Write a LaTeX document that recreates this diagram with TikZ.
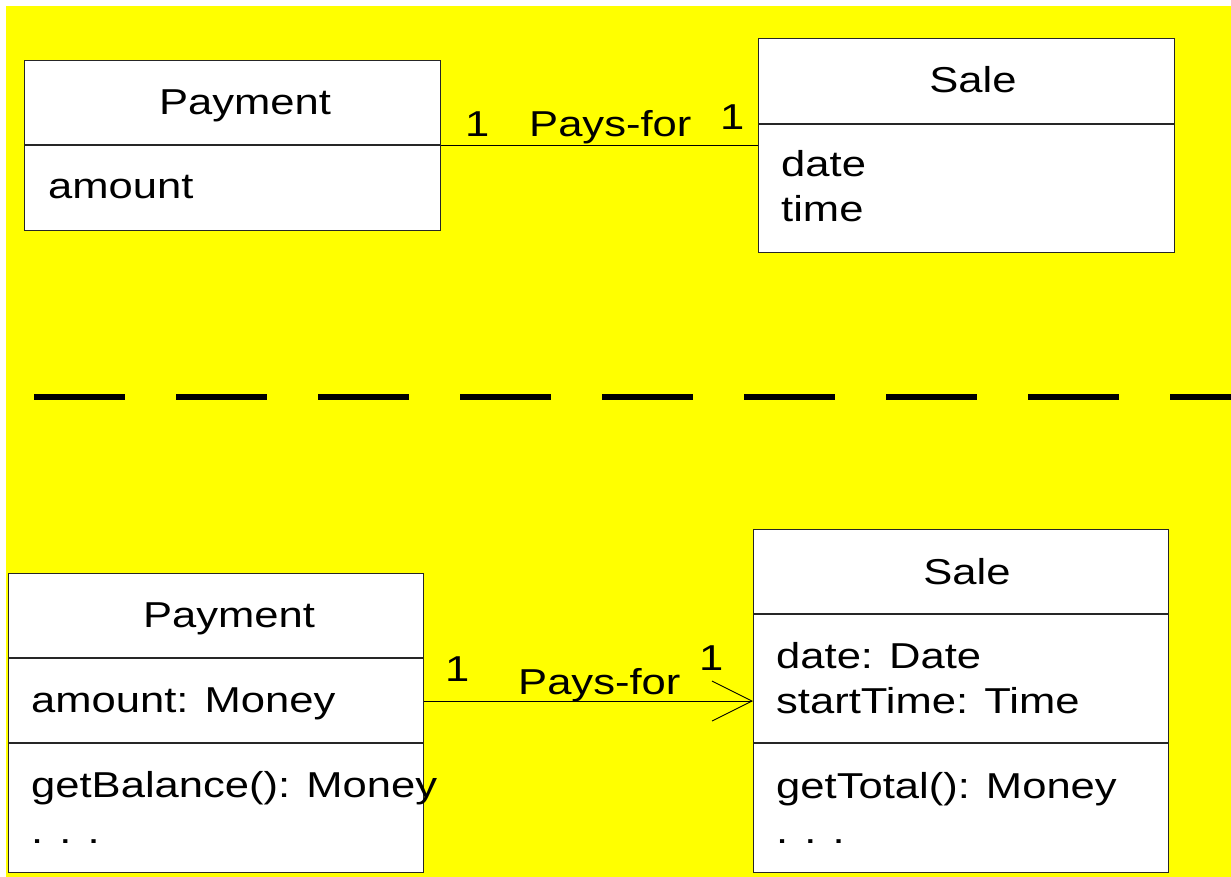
\documentclass[tikz,border=0pt]{standalone}
\usepackage{fontspec}
\setmainfont{Liberation Sans}[FakeStretch=1.21]
\usetikzlibrary{arrows.meta}
\definecolor{slideyellow}{RGB}{255,255,0}
\begin{document}
\begin{tikzpicture}[x=1pt,y=-1pt,
  classbox/.style={draw=black!85, line width=1.3pt, fill=white, rectangle, inner sep=0pt, anchor=north west},
  lbl/.style={inner sep=0pt, font=\fontsize{36}{45}\selectfont},
  assoc/.style={draw=black, line width=0.9pt},
  divider/.style={draw=black!85, line width=1.3pt}]
\useasboundingbox (0,0) rectangle (1231,877);
\fill[slideyellow] (6,6) rectangle (1231,877);

% --- conceptual model ---
\node[classbox, minimum width=416pt, minimum height=170pt] (pay1) at (24,60) {};
\draw[divider] ([yshift=-85pt]pay1.north west) -- ([yshift=-85pt]pay1.north east);
\node[lbl, anchor=base] (pay1name) at (245,115) {Payment};
\node[lbl, anchor=base west] (pay1attr) at (48,199) {amount};

\node[classbox, minimum width=416pt, minimum height=214pt] (sale1) at (758,38) {};
\draw[divider] ([yshift=-86pt]sale1.north west) -- ([yshift=-86pt]sale1.north east);
\node[lbl, anchor=base] (sale1name) at (973,93) {Sale};
\node[lbl, anchor=base west] (sale1attr) at (781,177) {date};
\node[lbl, anchor=base west] (sale1attrb) at (781,222) {time};

\draw[assoc] (pay1.east) -- (sale1.west);
\node[lbl, anchor=base west] (m1a) at (465,137) {1};
\node[lbl, anchor=base west] (r1) at (529,137) {Pays-for};
\node[lbl, anchor=base west] (m1b) at (720,130) {1};

% --- separator ---
\draw[line width=6pt, dash pattern=on 91pt off 51pt] (34,397) coordinate (sepL) -- (1231,397) coordinate (sepR);

% --- design model ---
\node[classbox, minimum width=415pt, minimum height=299pt] (pay2) at (8,573) {};
\draw[divider] ([yshift=-85pt]pay2.north west) -- ([yshift=-85pt]pay2.north east);
\draw[divider] ([yshift=-170pt]pay2.north west) -- ([yshift=-170pt]pay2.north east);
\node[lbl, anchor=base] (pay2name) at (229,627) {Payment};
\node[lbl, anchor=base west] (pay2attr) at (31,712) {amount: Money};
\node[lbl, anchor=base west] (pay2op) at (31,797) {getBalance(): Money};
\node[lbl, anchor=base west] (pay2more) at (31,843) {. . .};

\node[classbox, minimum width=415pt, minimum height=343pt] (sale2) at (753,529) {};
\draw[divider] ([yshift=-85pt]sale2.north west) -- ([yshift=-85pt]sale2.north east);
\draw[divider] ([yshift=-214pt]sale2.north west) -- ([yshift=-214pt]sale2.north east);
\node[lbl, anchor=base] (sale2name) at (967,584) {Sale};
\node[lbl, anchor=base west] (sale2attr) at (776,668) {date: Date};
\node[lbl, anchor=base west] (sale2attrb) at (776,713) {startTime: Time};
\node[lbl, anchor=base west] (sale2op) at (776,798) {getTotal(): Money};
\node[lbl, anchor=base west] (sale2more) at (776,843) {. . .};

\draw[assoc, -{Straight Barb[length=40pt, width=40pt, line width=0.9pt]}]
  (pay2.east |- 0,701) -- (sale2.west |- 0,701);
\node[lbl, anchor=base west] (m2a) at (445,681) {1};
\node[lbl, anchor=base west] (r2) at (518,694) {Pays-for};
\node[lbl, anchor=base west] (m2b) at (699,670) {1};
\end{tikzpicture}
\end{document}
